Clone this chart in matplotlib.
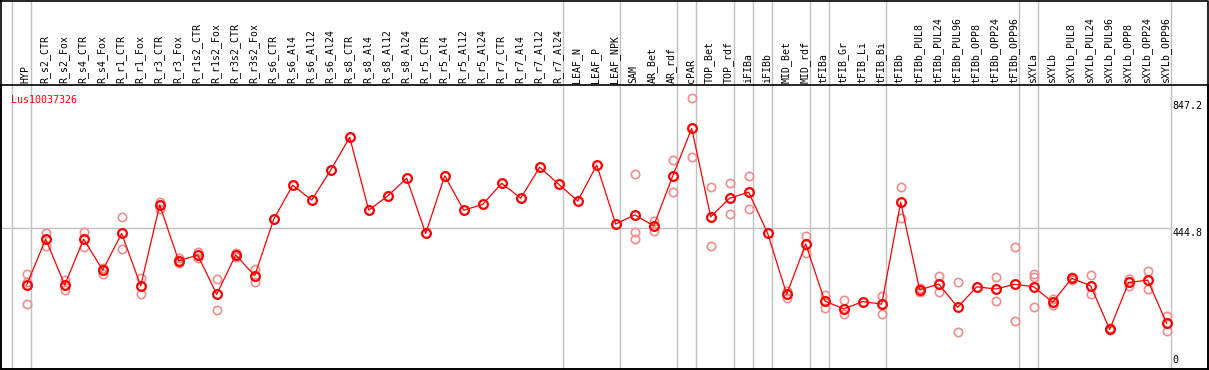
import matplotlib
matplotlib.use("Agg")
import matplotlib.pyplot as plt
from matplotlib.lines import Line2D

samples = ["HYP", "R_s2_CTR", "R_s2_Fox", "R_s4_CTR", "R_s4_Fox", "R_r1_CTR", "R_r1_Fox",
           "R_r3_CTR", "R_r3_Fox", "R_r1s2_CTR", "R_r1s2_Fox", "R_r3s2_CTR", "R_r3s2_Fox",
           "R_s6_CTR", "R_s6_Al4", "R_s6_Al12", "R_s6_Al24", "R_s8_CTR", "R_s8_Al4",
           "R_s8_Al12", "R_s8_Al24", "R_r5_CTR", "R_r5_Al4", "R_r5_Al12", "R_r5_Al24",
           "R_r7_CTR", "R_r7_Al4", "R_r7_Al12", "R_r7_Al24", "LEAF_N", "LEAF_P", "LEAF_NPK",
           "SAM", "AR_Bet", "AR_rdf", "cPAR", "TOP_Bet", "TOP_rdf", "iFIBa", "iFIBb",
           "MID_Bet", "MID_rdf", "tFIBa", "tFIB_Gr", "tFIB_Li", "tFIB_Bi", "tFIBb",
           "tFIBb_PUL8", "tFIBb_PUL24", "tFIBb_PUL96", "tFIBb_OPP8", "tFIBb_OPP24",
           "tFIBb_OPP96", "sXYLa", "sXYLb", "sXYLb_PUL8", "sXYLb_PUL24", "sXYLb_PUL96",
           "sXYLb_OPP8", "sXYLb_OPP24", "sXYLb_OPP96"]

means = [265, 410, 265, 410, 312, 428, 262, 518, 341, 360, 235, 360, 294, 473, 581,
         534, 629, 733, 502, 547, 603, 428, 611, 502, 520, 587, 540, 638, 584, 531,
         645, 458, 487, 452, 610, 761, 481, 540, 559, 428, 235, 395, 214, 189, 212,
         204, 527, 249, 268, 194, 259, 252, 267, 259, 210, 286, 262, 124, 273, 280, 143]

# individual replicates (only those visible off the mean marker)
reps = [[300, 275, 205], [430, 389], [280, 249], [433, 386], [318, 300], [480, 378],
        [288, 235], [529, 505], [349, 334], [370, 349], [283, 185], [365, 355],
        [314, 275], [], [], [], [], [], [], [], [], [], [], [], [], [], [], [], [],
        [], [], [], [616, 432, 410], [468, 437], [661, 559], [856, 670], [574, 388],
        [587, 489], [611, 505], [], [245, 225], [420, 367], [233, 191], [217, 173],
        [], [230, 172], [574, 476], [255, 243], [293, 242], [273, 115], [],
        [289, 214], [384, 151], [300, 291, 194], [219, 201], [290, 280], [296, 235],
        [128, 121], [284, 262], [309, 251], [166, 120]]

separators = [0, 1, 29, 32, 35, 36, 38, 39, 40, 42, 43, 46, 53, 54, 61]
ytick_vals = [0, 444.8, 847.2]
gene = "Lus10037326"

W, H = 1209, 370
fig = plt.figure(figsize=(W / 100, H / 100), dpi=100)
top_px, bot_px = 85, 369
ax = fig.add_axes([1 / W, (H - bot_px) / H, 1207 / W, (bot_px - top_px) / H])

x = list(range(1, len(samples) + 1))
ax.set_xlim((1 - 7.7) / 19, (1208 - 7.7) / 19)
ax.set_ylim(-1.6, 898.7)
ax.set_xticks([])
ax.set_yticks([])
for s in ax.spines.values():
    s.set_color("black")
    s.set_linewidth(1.2)

grey = "#c0c0c0"
last = len(samples) + 0.2
ext = 1 + top_px / (bot_px - top_px)
for c in separators:
    ax.axvline(c + 0.2, ymin=0, ymax=ext, color=grey, lw=1, clip_on=False, zorder=1)
ax.plot([-0.4, last], [444.8, 444.8], color=grey, lw=1, zorder=1)

for xi, r in zip(x, reps):
    if r:
        ax.plot([xi] * len(r), r, ls="none", marker="o", ms=6, mfc="none",
                mec="#f08c8c", mew=1.2, zorder=2)

ax.plot(x, means, color="red", lw=0.9, zorder=3)
ax.plot(x, means, ls="none", marker="o", ms=6.3, mfc="none", mec="red", mew=1.6, zorder=4)

mono = "DejaVu Sans Mono"
for xi, lab in zip(x, samples):
    ax.text(xi - 0.05, 1.007, lab, rotation=90, ha="center", va="bottom", fontsize=7.1,
            family=mono, transform=ax.get_xaxis_transform(), clip_on=False)

for v in ytick_vals:
    ax.text(last + 0.1, v if v > 0 else 12, f"{v:g}" if v else "0", ha="left",
            va="top" if v else "bottom", fontsize=7.2, family=mono)

ax.text(0.008, 0.965, gene, color="red", fontsize=7.2, family=mono,
        transform=ax.transAxes, ha="left", va="top")

fig.add_artist(Line2D([0.5 / W, 1207.5 / W, 1207.5 / W, 0.5 / W, 0.5 / W],
                      [1 - 0.5 / H, 1 - 0.5 / H, 1 / H, 1 / H, 1 - 0.5 / H],
                      color="black", lw=1.2, transform=fig.transFigure))

fig.savefig("out.png", dpi=100)
